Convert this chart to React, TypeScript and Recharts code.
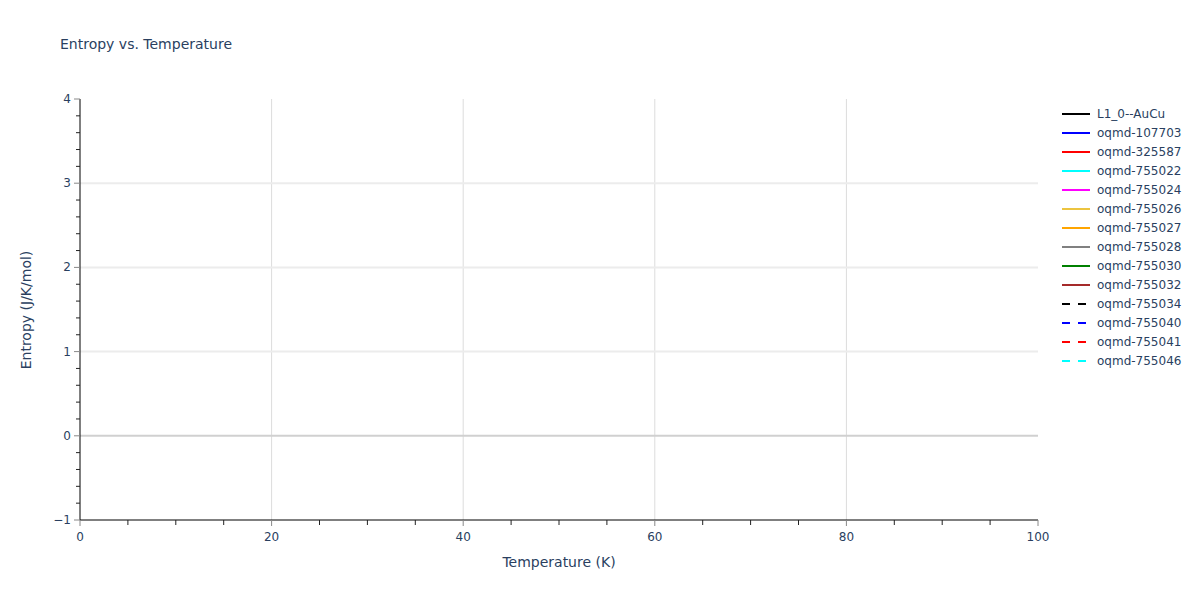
import React from 'react';
import { LineChart, Line, XAxis, YAxis, ReferenceLine, Legend } from 'recharts';

// Categories / series (no visible data points in the reference)
const seriesNames = [
  'L1_0--AuCu', 'oqmd-107703', 'oqmd-325587', 'oqmd-755022', 'oqmd-755024',
  'oqmd-755026', 'oqmd-755027', 'oqmd-755028', 'oqmd-755030', 'oqmd-755032',
  'oqmd-755034', 'oqmd-755040', 'oqmd-755041', 'oqmd-755046',
];
const seriesColors = [
  '#000000', '#0000ff', '#ff0000', '#00ffff', '#ff00ff',
  '#ecc440', '#ffa500', '#808080', '#008000', '#a52a2a',
  '#000000', '#0000ff', '#ff0000', '#00ffff',
];
const seriesDashed = [
  false, false, false, false, false, false, false, false, false, false,
  true, true, true, true,
];
// Each series' temperature/entropy values (empty in the reference)
const seriesValues: { temperature: number; entropy: number }[][] = seriesNames.map(() => []);

const xTicks = [0, 5, 10, 15, 20, 25, 30, 35, 40, 45, 50, 55, 60, 65, 70, 75, 80, 85, 90, 95, 100];
const xLabelTicks = [0, 20, 40, 60, 80, 100];
const yTicks = [-1, -0.8, -0.6, -0.4, -0.2, 0, 0.2, 0.4, 0.6, 0.8, 1, 1.2, 1.4, 1.6, 1.8, 2, 2.2, 2.4, 2.6, 2.8, 3, 3.2, 3.4, 3.6, 3.8, 4];
const yLabelTicks = [-1, 0, 1, 2, 3, 4];
const xGrid = [20, 40, 60, 80];
const yGrid = [1, 2, 3];

const FONT = '"DejaVu Sans", Verdana, sans-serif';
const TEXT = '#2a3f5f';

const fmt = (v: number) => (v < 0 ? '\u2212' + Math.abs(v) : String(v));

const XTick = (props: any) => {
  const { x, y, payload } = props;
  const v = payload.value;
  const major = xLabelTicks.includes(v);
  return (
    <g>
      <line x1={x} x2={x} y1={y} y2={y + (major ? 6 : 5)} stroke={major ? '#888' : '#222'} strokeWidth={1} />
      {major && (
        <text x={x} y={y + 21} textAnchor="middle" fill={TEXT} fontSize={12} fontFamily={FONT}>
          {fmt(v)}
        </text>
      )}
    </g>
  );
};

const YTick = (props: any) => {
  const { x, y, payload } = props;
  const v = Math.round(payload.value * 10) / 10;
  const major = yLabelTicks.includes(v);
  return (
    <g>
      <line x1={x} x2={x - (major ? 6 : 4)} y1={y} y2={y} stroke={major ? '#888' : '#222'} strokeWidth={1} />
      {major && (
        <text x={x - 9} y={y + 4} textAnchor="end" fill={TEXT} fontSize={12} fontFamily={FONT}>
          {fmt(v)}
        </text>
      )}
    </g>
  );
};

const LegendContent = () => (
  <div style={{ position: 'absolute', left: 1062, top: 105 }}>
    <svg width={138} height={280}>
      {seriesNames.map((name, i) => (
        <g key={name} transform={`translate(0, ${9 + i * 19})`}>
          <line x1={0} x2={28} y1={0} y2={0} stroke={seriesColors[i]} strokeWidth={2}
            strokeDasharray={seriesDashed[i] ? '8 8' : undefined} />
          <text x={35} y={4} fill={TEXT} fontSize={12} fontFamily={FONT}>{name}</text>
        </g>
      ))}
    </svg>
  </div>
);

export default function App() {
  return (
    <div style={{ position: 'absolute', left: 0, top: 0, width: 1200, height: 600, background: '#fff' }}>
      <LineChart width={1200} height={600} margin={{ top: 99, right: 162, bottom: 40, left: 40 }}>
        <XAxis dataKey="temperature" type="number" domain={[0, 100]} ticks={xTicks}
          tick={<XTick />} tickLine={false} tickSize={0} tickMargin={0} height={40}
          axisLine={{ stroke: '#000', strokeWidth: 1 }} interval={0} allowDataOverflow />
        <YAxis dataKey="entropy" type="number" domain={[-1, 4]} ticks={yTicks}
          tick={<YTick />} tickLine={false} tickSize={0} tickMargin={0} width={40}
          axisLine={{ stroke: '#000', strokeWidth: 1 }} interval={0} allowDataOverflow />
        {xGrid.map((v) => (
          <ReferenceLine key={'x' + v} x={v} stroke="#dcdcdc" strokeWidth={1} />
        ))}
        {yGrid.map((v) => (
          <ReferenceLine key={'y' + v} y={v} stroke="#ececec" strokeWidth={2} />
        ))}
        <ReferenceLine y={0} stroke="#d0d0d0" strokeWidth={2} />
        {seriesNames.map((name, i) => (
          <Line key={name} data={seriesValues[i]} dataKey="entropy" name={name} type="linear"
            stroke={seriesColors[i]} strokeWidth={2} dot={false}
            strokeDasharray={seriesDashed[i] ? '8 8' : undefined} isAnimationActive={false} />
        ))}
        <Legend content={<LegendContent />} wrapperStyle={{ position: 'absolute', left: 0, top: 0, width: 0, height: 0 }} />
      </LineChart>
      <div style={{ position: 'absolute', left: 60, top: 36, fontFamily: FONT, fontSize: 14, color: TEXT, whiteSpace: 'nowrap' }}>
        Entropy vs. Temperature
      </div>
      <div style={{ position: 'absolute', left: 80, width: 958, top: 554, textAlign: 'center', fontFamily: FONT, fontSize: 14, color: TEXT }}>
        Temperature (K)
      </div>
      <svg style={{ position: 'absolute', left: 0, top: 0 }} width={60} height={600}>
        <text transform="translate(31, 310) rotate(-90)" textAnchor="middle" fill={TEXT} fontSize={14} fontFamily={FONT}>
          Entropy (J/K/mol)
        </text>
      </svg>
    </div>
  );
}
